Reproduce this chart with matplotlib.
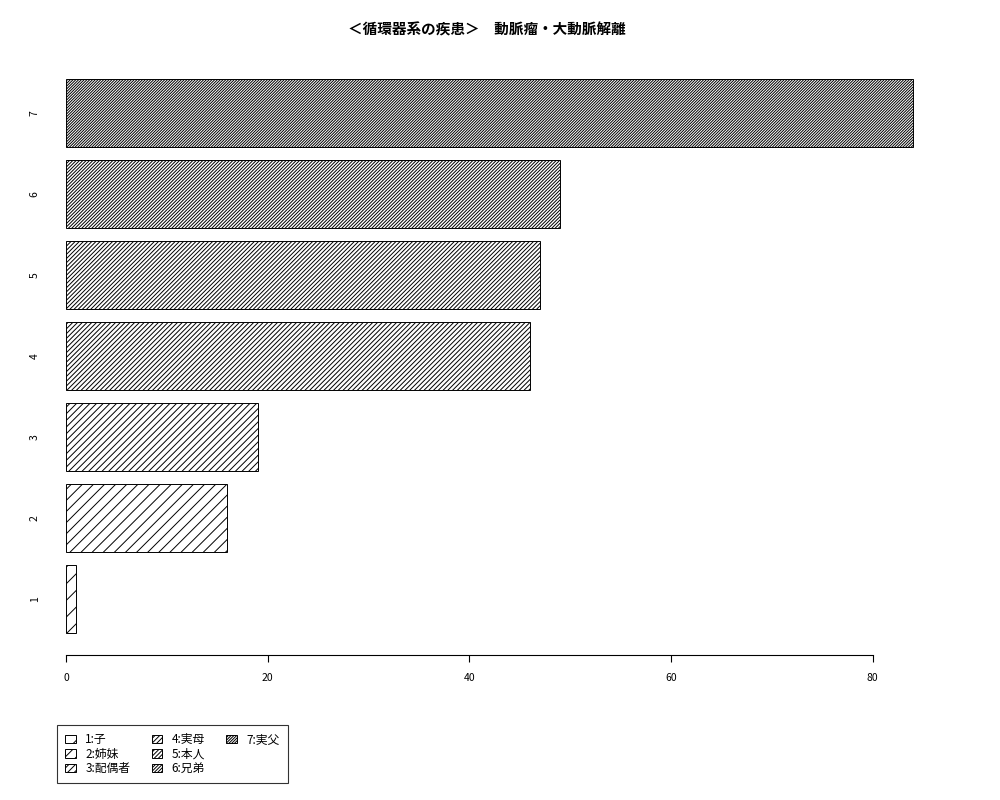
import matplotlib
matplotlib.use("Agg")
import matplotlib.pyplot as plt
from matplotlib.patches import Rectangle

plt.rcParams['font.family'] = ['Noto Sans CJK JP', 'DejaVu Sans']
plt.rcParams['hatch.linewidth'] = 0.7

title = "＜循環器系の疾患＞　動脈瘤・大動脈解離"
categories = ["1", "2", "3", "4", "5", "6", "7"]
legend_labels = ["1:子", "2:姉妹", "3:配偶者", "4:実母", "5:本人", "6:兄弟", "7:実父"]
values = [1, 16, 19, 46, 47, 49, 84]
xticks = [0, 20, 40, 60, 80]

W, H = 1000, 800
fig = plt.figure(figsize=(10, 8), dpi=100)

# plot region in pixels (R barplot style)
left, right, top, bottom = 66, 947, 56.8, 655.2
ax = fig.add_axes([left / W, 1 - bottom / H, (right - left) / W, (bottom - top) / H])

centers = [0.7 + 1.2 * i for i in range(len(values))]
bars = ax.barh(centers, values, height=1.0, left=0, color="white",
               edgecolor="black", linewidth=0.7)
# hatch gets denser with each bar (like R's density = 5, 10, 15, ...)
for i, b in enumerate(bars):
    b.set_hatch("/" * round(5 * (i + 1) / 3))
    b.set_label(legend_labels[i])

ax.set_xlim(0, 87.36)
ax.set_ylim(-0.128, 8.728)

for s in ["top", "right", "left"]:
    ax.spines[s].set_visible(False)
ax.spines["bottom"].set_bounds(0, 80)
ax.spines["bottom"].set_linewidth(0.8)
ax.set_xticks(xticks)
ax.set_xticklabels([str(t) for t in xticks])
ax.tick_params(axis="x", length=5, width=0.8, pad=8, labelsize=7.5)
ax.set_yticks(centers)
ax.set_yticklabels(categories, rotation=90, va="center")
ax.tick_params(axis="y", length=0, pad=19, labelsize=7.5)

fig.text(0.487, 1 - 30 / H, title, ha="center", va="center",
         fontsize=10.5, fontweight="bold")

blank = Rectangle((0, 0), 1, 1, visible=False)
handles = list(bars) + [blank, blank]
labels = legend_labels + ["", ""]
leg = fig.legend(handles, labels, ncol=3, loc="upper left",
                 bbox_to_anchor=(57 / W, 1 - 725 / H), fontsize=8.5,
                 frameon=True, fancybox=False, edgecolor="black",
                 handlelength=0.9, handleheight=0.7, handletextpad=0.8,
                 columnspacing=1.8, labelspacing=0.12, borderpad=0.7,
                 borderaxespad=0)
leg.get_frame().set_linewidth(0.8)

fig.savefig("out.png", dpi=100)
